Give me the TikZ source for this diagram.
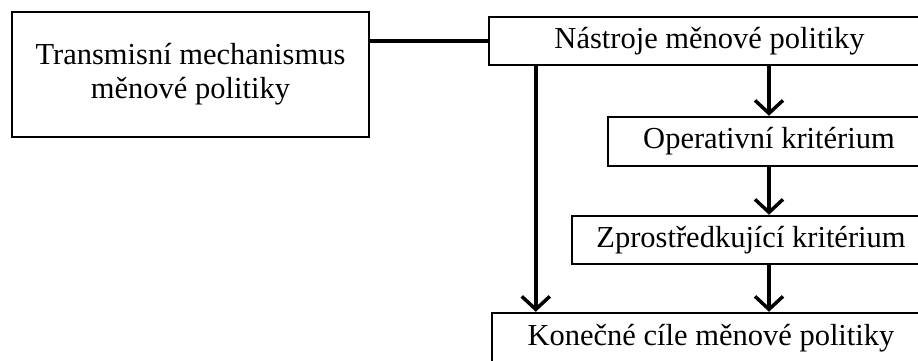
\documentclass[tikz,border=0pt]{standalone}
\usepackage{fontspec}
\setmainfont{Liberation Serif}
\usetikzlibrary{positioning,arrows.meta,calc}
\tikzset{
  node-box/.style={draw=black,line width=2.5pt,align=center,inner sep=0pt,
    font=\fontsize{30.5}{34}\selectfont},
  line-plain/.style={line width=3.5pt,draw=black},
  arrow/.style={-{Straight Barb[length=13pt,width=28pt,line width=3.5pt]},
    line width=3.5pt,draw=black},
}
\begin{document}
\begin{tikzpicture}[x=1pt,y=-1pt]
  \useasboundingbox (0,0) rectangle (918,361);
  \node[node-box,minimum width=357pt,minimum height=125pt] (trans) at (190.5,74.5)
    {Transmisní mechanismus\\měnové politiky};
  \node[node-box,minimum width=441pt,minimum height=48pt] (nastroje) at (709.5,41)
    {Nástroje měnové politiky};
  \node[node-box,minimum width=322pt,minimum height=49pt] (oper) at (769,141.5)
    {Operativní kritérium};
  \node[node-box,minimum width=358pt,minimum height=48pt] (zprost) at (751,240)
    {Zprostředkující kritérium};
  \node[node-box,minimum width=438pt,minimum height=50pt] (cile) at (711,338)
    {Konečné cíle měnové politiky};
  \draw[line-plain] (trans.east |- nastroje.west) -- (nastroje.west);
  \draw[arrow] ([xshift=48pt]nastroje.south west) -- ([xshift=45pt]cile.north west);
  \draw[arrow] (oper.north |- nastroje.south) -- (oper.north);
  \draw[arrow] (oper.south) -- (oper.south |- zprost.north);
  \draw[arrow] (zprost.south -| oper.south) -- (cile.north -| oper.south);
\end{tikzpicture}
\end{document}
